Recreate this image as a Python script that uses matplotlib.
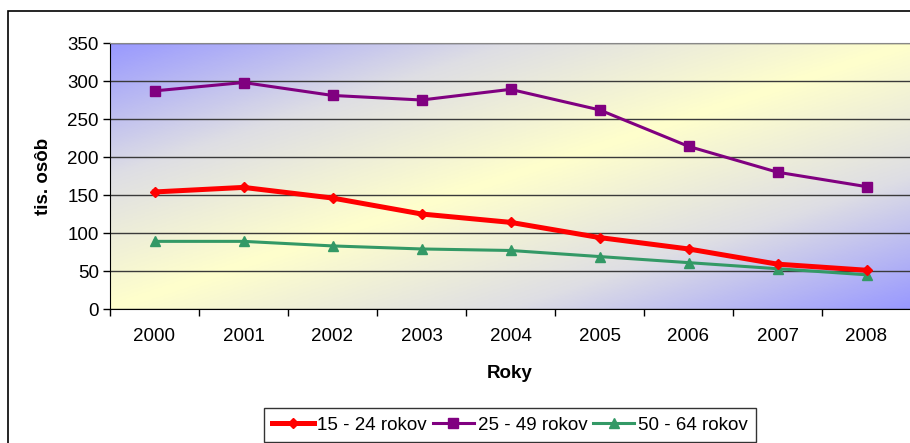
import numpy as np
import matplotlib
matplotlib.use("Agg")
import matplotlib.pyplot as plt
from matplotlib.colors import LinearSegmentedColormap
from matplotlib.patches import Rectangle

plt.rcParams['font.family'] = ['Liberation Sans', 'DejaVu Sans']

years = ["2000", "2001", "2002", "2003", "2004", "2005", "2006", "2007", "2008"]
age_15_24 = [154, 160, 146, 125, 114, 94, 79, 59, 51]
age_25_49 = [287, 298, 281, 275, 289, 262, 214, 180, 161]
age_50_64 = [89, 89, 83, 79, 77, 69, 61, 53, 45]
series_labels = ["15 - 24 rokov", "25 - 49 rokov", "50 - 64 rokov"]

W, H = 910, 443
fig = plt.figure(figsize=(W / 100, H / 100), dpi=100)
fig.patch.set_facecolor("white")

# plot area in pixels: left 110, top 43, bottom 309, category width 89
ax = fig.add_axes([110 / W, (H - 309) / H, 801 / W, 266 / H])

# diagonal gradient background (blue corners, yellow middle band)
cmap = LinearSegmentedColormap.from_list(
    "bg", [(0.0, "#9999ff"), (0.25, "#dedee4"), (0.5, "#ffffcc"),
           (0.75, "#dedee4"), (1.0, "#9999ff")])
u, v = np.meshgrid(np.linspace(0, 1, 400), np.linspace(0, 1, 200))
t = (u + v) / 2
ax.imshow(t, cmap=cmap, vmin=0, vmax=1, extent=[0, 1, 0, 1],
          transform=ax.transAxes, origin="upper", aspect="auto",
          interpolation="bilinear", zorder=0)

x = np.arange(len(years))
ax.plot(x, age_15_24, color="#ff0000", lw=3.6, marker="D", ms=5.5,
        label=series_labels[0], zorder=4)
ax.plot(x, age_25_49, color="#800080", lw=2.2, marker="s", ms=6.5,
        label=series_labels[1], zorder=3)
ax.plot(x, age_50_64, color="#339966", lw=2.2, marker="^", ms=7.5,
        label=series_labels[2], zorder=3)

ax.set_xlim(-0.5, len(years) - 0.5)
ax.set_ylim(0, 350)
ax.set_aspect("auto")

ax.set_yticks(np.arange(0, 351, 50))
ax.yaxis.grid(True, color="#3a3a3a", lw=1.0)
ax.set_axisbelow(True)

ax.set_xticks(np.arange(-0.5, len(years), 1.0))
ax.set_xticklabels([])
ax.set_xticks(x, minor=True)
ax.set_xticklabels(years, minor=True)
ax.tick_params(axis="x", which="major", direction="out", length=5, width=1)
ax.tick_params(axis="x", which="minor", length=0, pad=14, labelsize=13.5)
ax.tick_params(axis="y", direction="out", length=5, width=1, pad=3,
               labelsize=13.5)

ax.spines["right"].set_visible(False)
ax.spines["top"].set_color("#888888")
ax.spines["left"].set_color("black")
ax.spines["bottom"].set_color("black")

ax.set_xlabel("Roky", fontsize=13.5, fontweight="bold")
ax.set_ylabel("tis. osôb", fontsize=13.5, fontweight="bold")
ax.xaxis.set_label_coords((510 - 110) / 801, (309 - 374) / 266)
ax.xaxis.label.set_va("center")
ax.yaxis.set_label_coords((43 - 110) / 801, 0.5)
ax.yaxis.label.set_va("center")

leg = fig.legend(loc="upper center", bbox_to_anchor=(510 / W, (H - 408) / H),
                 ncol=3, fontsize=13.5, frameon=True, fancybox=False,
                 edgecolor="black", borderpad=0.45, handlelength=2.2,
                 handletextpad=0.2, columnspacing=0.3, borderaxespad=0)
leg.get_frame().set_linewidth(1.0)

# outer chart border (partly cropped)
fig.add_artist(Rectangle((8 / W, -0.1), 1.2, (H - 11) / H + 0.1,
                         transform=fig.transFigure, fill=False,
                         edgecolor="black", lw=1.2, clip_on=False))

fig.savefig("out.png", dpi=100)
